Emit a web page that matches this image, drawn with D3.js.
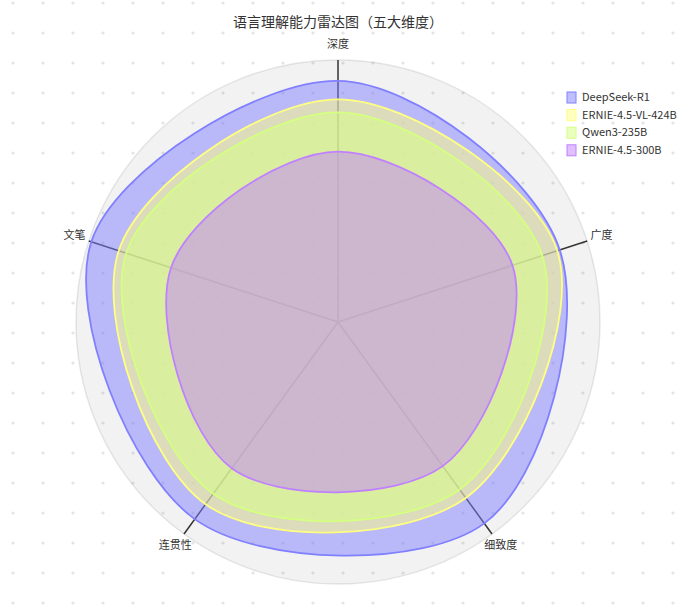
<!DOCTYPE html>
<html>
<head>
<meta charset="utf-8">
<script src="https://cdn.jsdelivr.net/npm/d3@7"></script>
<style>
  html, body { margin: 0; padding: 0; background: #fff; }
  svg { display: block; font-family: "Noto Sans CJK SC", "Noto Sans", sans-serif; }
</style>
</head>
<body>
<div id="chart"></div>
<script>
// Données du radar
const dimensions = ['深度', '广度', '细致度', '连贯性', '文笔'];
const models = ['DeepSeek-R1', 'ERNIE-4.5-VL-424B', 'Qwen3-235B', 'ERNIE-4.5-300B'];
const colors = ['#8080ff', '#ffff80', '#d5ff80', '#c080ff'];
const deepseekR1 = [9.2, 8.9, 9.5, 9.3, 9.9];
const ernieVL424B = [8.5, 8.8, 8.3, 8.6, 8.8];
const qwen3_235B = [8.0, 8.2, 7.9, 8.1, 8.5];
const ernie300B = [6.5, 7.0, 6.8, 6.9, 6.7];
const seriesValues = [deepseekR1, ernieVL424B, qwen3_235B, ernie300B];
const maxValue = 10;

const width = 694, height = 613;
const cx = 338, cy = 322, radius = 262;

const svg = d3.select('#chart').append('svg')
  .attr('width', width)
  .attr('height', height);

// Fond pointillé
const dots = svg.append('g').attr('class', 'dots');
for (let x = 13; x < width; x += 30) {
  for (let y = 3; y < height; y += 30) {
    dots.append('circle')
      .attr('cx', x).attr('cy', y).attr('r', 1.6)
      .style('fill', '#e4e4e4');
  }
}

// Titre
svg.append('text')
  .attr('x', cx)
  .attr('y', 23)
  .attr('dominant-baseline', 'middle')
  .style('text-anchor', 'middle')
  .style('font-size', '14px')
  .style('fill', '#333')
  .text('语言理解能力雷达图（五大维度）');

const g = svg.append('g').attr('transform', `translate(${cx},${cy})`);

const r = d3.scaleLinear().domain([0, maxValue]).range([0, radius]);
const angle = d3.scalePoint().domain(dimensions.concat(['_'])).range([0, 2 * Math.PI]);

// Cercle de fond
g.append('circle')
  .attr('r', radius)
  .style('fill', '#000')
  .style('fill-opacity', 0.05)
  .style('stroke', '#000')
  .style('stroke-opacity', 0.09)
  .style('stroke-width', 1.5);

// Axes
const axes = g.append('g').attr('class', 'axes');
dimensions.forEach(d => {
  const a = angle(d);
  axes.append('line')
    .attr('x1', 0).attr('y1', 0)
    .attr('x2', Math.sin(a) * r(maxValue))
    .attr('y2', -Math.cos(a) * r(maxValue))
    .style('stroke', '#333')
    .style('stroke-width', 1.5);
  axes.append('text')
    .attr('x', Math.sin(a) * (radius + 15))
    .attr('y', -Math.cos(a) * (radius + 15))
    .attr('dominant-baseline', 'middle')
    .style('text-anchor', 'middle')
    .style('font-size', '11px')
    .style('fill', '#333')
    .text(d);
});

// Aires des modèles
const line = d3.lineRadial()
  .angle((v, i) => angle(dimensions[i]))
  .radius(v => r(v))
  .curve(d3.curveCardinalClosed);

g.append('g').attr('class', 'series')
  .selectAll('path')
  .data(seriesValues)
  .enter().append('path')
  .attr('d', line)
  .style('fill', (d, i) => colors[i])
  .style('fill-opacity', 0.5)
  .style('stroke', (d, i) => colors[i])
  .style('stroke-width', 1.8);

// Légende
const legend = svg.append('g').attr('class', 'legend')
  .selectAll('g')
  .data(models)
  .enter().append('g')
  .attr('transform', (d, i) => `translate(567,${92 + i * 17.6})`);

legend.append('rect')
  .attr('width', 9).attr('height', 11)
  .style('fill', (d, i) => colors[i])
  .style('fill-opacity', 0.5)
  .style('stroke', (d, i) => colors[i]);

legend.append('text')
  .attr('x', 15)
  .attr('y', 6)
  .attr('dominant-baseline', 'middle')
  .style('font-size', '11px')
  .style('fill', '#333')
  .text(d => d);
</script>
</body>
</html>
